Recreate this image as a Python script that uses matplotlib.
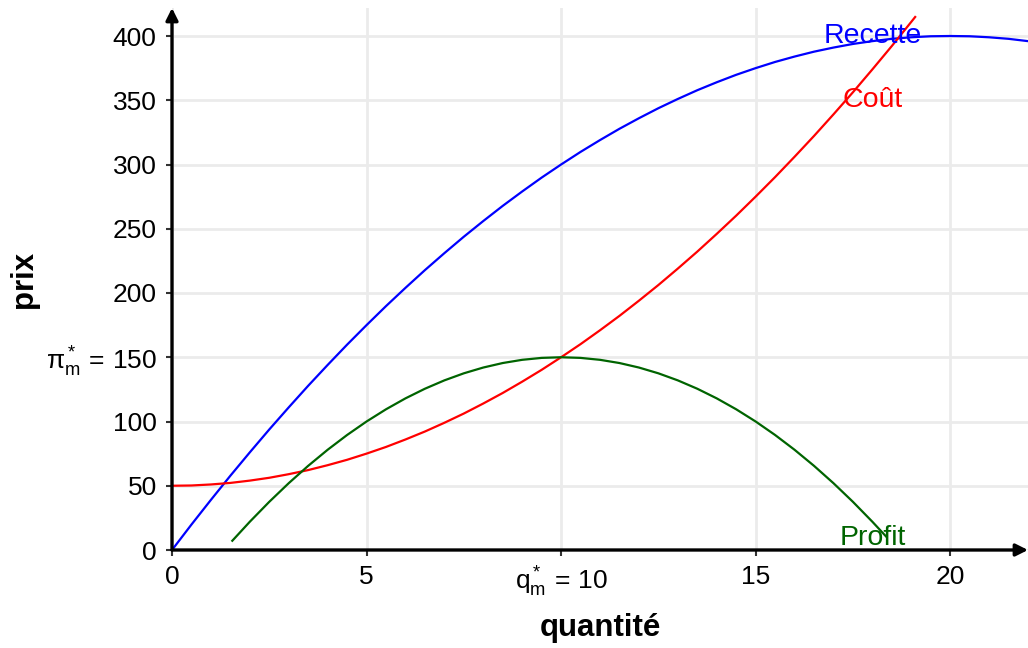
import numpy as np
import matplotlib.pyplot as plt

plt.rcParams['font.family'] = ['Liberation Sans', 'DejaVu Sans']
plt.rcParams['mathtext.fontset'] = 'custom'
plt.rcParams['mathtext.rm'] = 'Liberation Sans'
plt.rcParams['mathtext.it'] = 'Liberation Sans'

# recette (pas de 0.5)
q_rec = [0, 0.5, 1, 1.5, 2, 2.5, 3, 3.5, 4, 4.5, 5, 5.5, 6, 6.5, 7, 7.5, 8, 8.5, 9, 9.5,
         10, 10.5, 11, 11.5, 12, 12.5, 13, 13.5, 14, 14.5, 15, 15.5, 16, 16.5, 17, 17.5,
         18, 18.5, 19, 19.5, 20, 20.5, 21, 21.5, 22]
recette = [0, 19.8, 39, 57.8, 76, 93.8, 111, 127.8, 144, 159.8, 175, 189.8, 204, 217.8,
           231, 243.8, 256, 267.8, 279, 289.8, 300, 309.8, 319, 327.8, 336, 343.8, 351,
           357.8, 364, 369.8, 375, 379.8, 384, 387.8, 391, 393.8, 396, 397.8, 399, 399.8,
           400, 399.8, 399, 397.8, 396]

# cout
q_cout = [0, 0.5, 1, 1.5, 2, 2.5, 3, 3.5, 4, 4.5, 5, 5.5, 6, 6.5, 7, 7.5, 8, 8.5, 9, 9.5,
          10, 10.5, 11, 11.5, 12, 12.5, 13, 13.5, 14, 14.5, 15, 15.5, 16, 16.5, 17, 17.5,
          18, 18.5, 19, 19.1]
cout = [50, 50.2, 51, 52.2, 54, 56.2, 59, 62.2, 66, 70.2, 75, 80.2, 86, 92.2, 99, 106.2,
        114, 122.2, 131, 140.2, 150, 160.2, 171, 182.2, 194, 206.2, 219, 232.2, 246, 260.2,
        275, 290.2, 306, 322.2, 339, 356.2, 374, 392.2, 411, 414.8]

# profit
q_prof = [1.55, 2, 2.5, 3, 3.5, 4, 4.5, 5, 5.5, 6, 6.5, 7, 7.5, 8, 8.5, 9, 9.5, 10, 10.5,
          11, 11.5, 12, 12.5, 13, 13.5, 14, 14.5, 15, 15.5, 16, 16.5, 17, 17.5, 18, 18.35]
profit = [7.2, 22, 37.5, 52, 65.5, 78, 89.5, 100, 109.5, 118, 125.5, 132, 137.5, 142, 145.5,
          148, 149.5, 150, 149.5, 148, 145.5, 142, 137.5, 132, 125.5, 118, 109.5, 100, 89.5,
          78, 65.5, 52, 37.5, 22, 10.6]

xticks = [0, 5, 10, 15, 20]
xlabels = ['0', '5', r'$\mathrm{q_m^*\,=\,10}$', '15', '20']
yticks = [0, 50, 100, 150, 200, 250, 300, 350, 400]
ylabels = ['0', '50', '100', r'$\mathrm{\pi_m^*\,=\,150}$', '200', '250', '300', '350', '400']

fig = plt.figure(figsize=(10.28, 6.48), dpi=100)
ax = fig.add_axes([172/1028, 1 - 550/648, 1 - 172/1028, (550 - 8)/648])

ax.plot(q_rec, recette, color='blue', lw=1.6)
ax.plot(q_cout, cout, color='red', lw=1.6)
ax.plot(q_prof, profit, color='darkgreen', lw=1.6)

ax.text(18, 400, 'Recette', color='blue', fontsize=20.5, ha='center', va='center')
ax.text(18, 350, 'Coût', color='red', fontsize=20.5, ha='center', va='center')
ax.text(18, 9, 'Profit', color='darkgreen', fontsize=20.5, ha='center', va='center')

ax.set_xlim(0, 22)
ax.set_ylim(0, 542 / 1.285)
ax.set_xticks(xticks)
ax.set_xticklabels(xlabels)
ax.set_yticks(yticks)
ax.set_yticklabels(ylabels)
ax.tick_params(labelsize=19, length=4, width=1.5, color='#333333', labelcolor='black', pad=7)
ax.grid(True, color='#ebebeb', lw=2)
ax.set_axisbelow(True)
for s in ax.spines.values():
    s.set_visible(False)

arr = dict(arrowstyle='-|>', lw=2.4, color='black', mutation_scale=18, shrinkA=0, shrinkB=0)
ax.annotate('', xy=(1, 0), xytext=(0, 0), xycoords='axes fraction', arrowprops=arr,
            annotation_clip=False)
ax.annotate('', xy=(0, 1), xytext=(0, 0), xycoords='axes fraction', arrowprops=arr,
            annotation_clip=False)

fig.text(600/1028, 1 - 628/648, 'quantité', fontsize=22.5, fontweight='bold',
         ha='center', va='center')
fig.text(24/1028, 1 - 279/648, 'prix', fontsize=22.5, fontweight='bold', rotation=90,
         ha='center', va='center')

fig.savefig('out.png', dpi=100)
